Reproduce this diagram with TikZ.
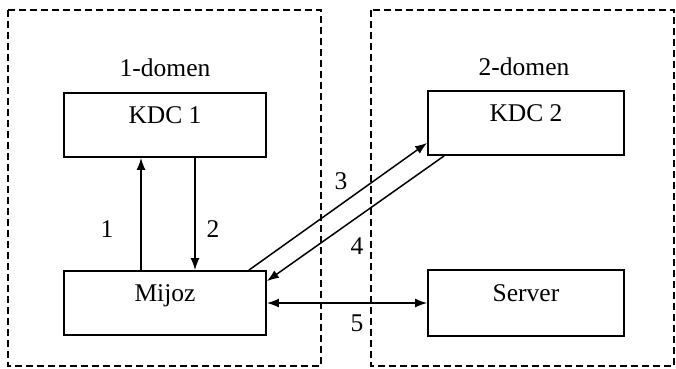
\documentclass[tikz,border=0pt]{standalone}
\usepackage{fontspec}
\setmainfont{Liberation Serif}
\usetikzlibrary{arrows.meta}

\begin{document}
\begin{tikzpicture}[x=1pt, y=-1pt, font=\fontsize{25.5}{30}\selectfont]
\tikzset{box/.style={draw, line width=1.8pt, minimum width=202pt, minimum height=64pt,
                     text height=17pt, text depth=20pt, inner sep=0pt},
         frame/.style={line width=1.8pt, dash pattern=on 7pt off 4pt},
         arr/.style={line width=1.5pt, -{Latex[length=12pt,width=9pt]}},
         num/.style={inner sep=0pt}}
%\tikzset{every node/.style={draw=red}}
\useasboundingbox (0,0) rectangle (676,368);
\draw[frame] (8,10) rectangle (321,366);
\draw[frame] (371,10) rectangle (674,366);
\node (dom1) at (165,68) {1-domen};
\node (dom2) at (524,67) {2-domen};
\node[box] (kdc1) at (165,125) {KDC 1};
\node[box] (mijoz) at (165,303) {Mijoz};
\node[box, minimum width=196pt] (kdc2) at (526,123) {KDC 2};
\node[box, minimum width=196pt, minimum height=66pt] (server) at (526,303) {Server};
% so'rovlar
\draw[arr] ([xshift=-24pt]mijoz.north) -- ([xshift=-24pt]kdc1.south);
\draw[arr] ([xshift=30pt]kdc1.south) -- ([xshift=30pt]mijoz.north);
\draw[arr] ([xshift=-18pt]mijoz.north east) -- ([yshift=13pt]kdc2.south west);
\draw[arr] ([xshift=17pt]kdc2.south west) -- ([yshift=-11pt]mijoz.north east);
\draw[arr, {Latex[length=12pt,width=9pt]}-{Latex[length=12pt,width=9pt]}] (mijoz.east) -- (server.west);
\node[num] (n1) at (107,229) {1};
\node[num] (n2) at (213,229) {2};
\node[num] (n3) at (341,181) {3};
\node[num] (n4) at (357,246) {4};
\node[num] (n5) at (357,323) {5};
\end{tikzpicture}
\end{document}
